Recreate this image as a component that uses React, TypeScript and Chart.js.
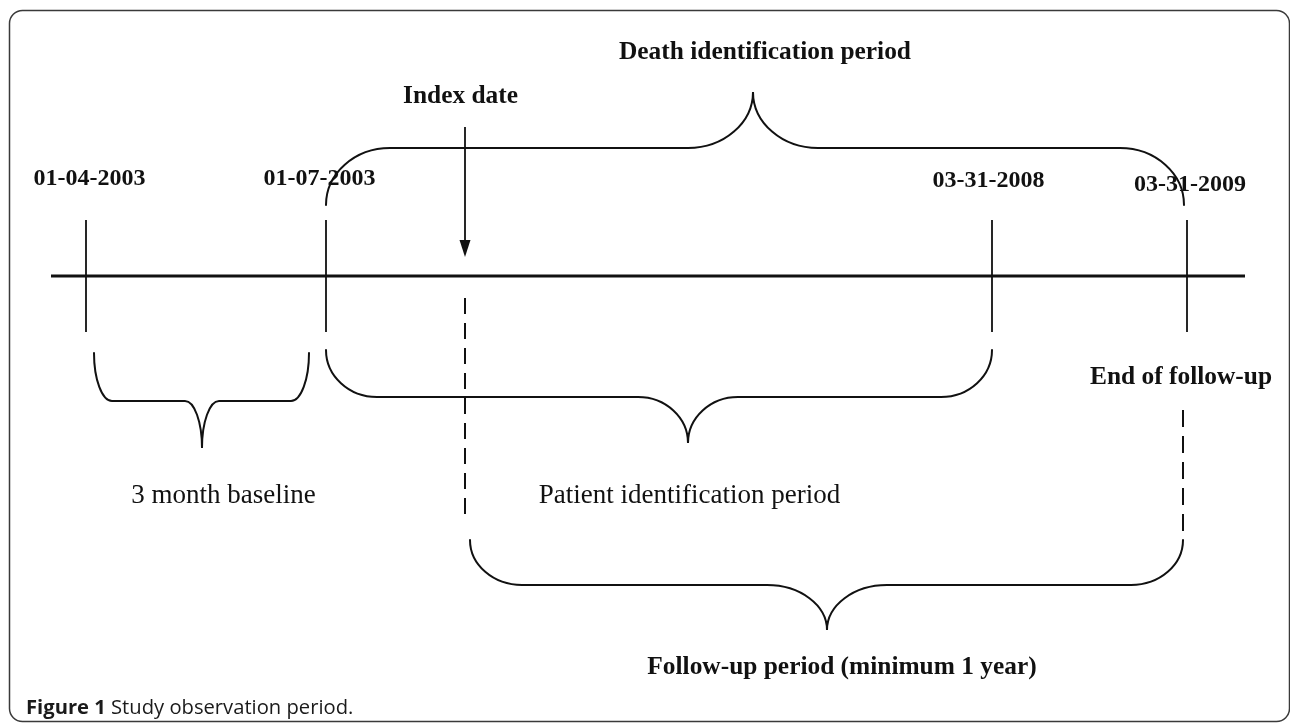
import React, { useEffect, useRef } from 'react';
import { Chart, registerables } from 'chart.js';

Chart.register(...registerables);

// ---- Data (schematic timeline units, 1 unit = 1 px of the figure) ----
const milestoneLabels = ['01-04-2003', '01-07-2003', '03-31-2008', '03-31-2009'];
const milestonePos = [86, 326, 992, 1187];

const indexDateLabel = 'Index date';
const indexDatePos = 465;

const endFollowUpLabel = 'End of follow-up';
const endFollowUpPos = 1183;

const periodLabels = [
  '3 month baseline',
  'Patient identification period',
  'Follow-up period (minimum 1 year)',
  'Death identification period',
];
const periodStart = [94, 326, 470, 326];
const periodEnd = [309, 992, 1183, 1184];
const periodPeak = [202, 688, 827, 753];

const captionBold = 'Figure 1';
const captionText = ' Study observation period.';

// ---- Layout / style (not data) ----
const INK = '#111111';
const SERIF = "'Liberation Serif', 'Times New Roman', serif";
const SANS = "'Open Sans', 'Noto Sans', sans-serif";
const L = {
  axisY: 276,
  axisX0: 51,
  axisX1: 1245,
  tickTop: 220,
  tickBottom: 332,
  dateCenterX: [89.5, 319.5, 988.5, 1190],
  dateBaseline: [185, 185, 187, 191],
  arrowTop: 127,
  arrowTip: 257,
  arrowHeadH: 17,
  arrowHeadW: 11,
  indexLabelX: 460.5,
  indexLabelBase: 103,
  idxDashTop: 298,
  idxDashBottom: 522,
  endDashTop: 410,
  endDashBottom: 534,
  endLabelX: 1181,
  endLabelBase: 384,
  braceEndY: [353, 350, 540, 205],
  braceBaseY: [401, 397, 585, 148],
  braceTipY: [448, 443, 630, 92],
  braceRx: [18, 51, 52, 64],
  braceCuspW: [17, 50, 60, 65],
  labelX: [223.5, 689.5, 842, 765],
  labelBase: [503, 503, 674, 59],
  labelFont: [`27px ${SERIF}`, `27px ${SERIF}`, `bold 25.4px ${SERIF}`, `bold 25.4px ${SERIF}`],
  captionX: 26,
  captionBase: 714,
  captionSize: 20.2,
};

function drawBrace(
  ctx: CanvasRenderingContext2D,
  x0: number, x1: number, xt: number,
  yEnd: number, yBase: number, yTip: number,
  rx: number, w: number
) {
  const ry = Math.abs(yBase - yEnd);
  const h = Math.abs(yTip - yBase);
  const P = Math.PI;
  ctx.beginPath();
  if (yBase > yEnd) {
    // opening upward, tip pointing down
    ctx.ellipse(x0 + rx, yEnd, rx, ry, 0, P, P / 2, true);
    ctx.lineTo(xt - w, yBase);
    ctx.ellipse(xt - w, yTip, w, h, 0, -P / 2, 0, false);
    ctx.ellipse(xt + w, yTip, w, h, 0, P, 1.5 * P, false);
    ctx.lineTo(x1 - rx, yBase);
    ctx.ellipse(x1 - rx, yEnd, rx, ry, 0, P / 2, 0, true);
  } else {
    // opening downward, tip pointing up
    ctx.ellipse(x0 + rx, yEnd, rx, ry, 0, P, 1.5 * P, false);
    ctx.lineTo(xt - w, yBase);
    ctx.ellipse(xt - w, yTip, w, h, 0, P / 2, 0, true);
    ctx.ellipse(xt + w, yTip, w, h, 0, P, P / 2, true);
    ctx.lineTo(x1 - rx, yBase);
    ctx.ellipse(x1 - rx, yEnd, rx, ry, 0, 1.5 * P, 2 * P, false);
  }
  ctx.stroke();
}

const diagramPlugin = {
  id: 'timelineDiagram',
  beforeDraw(chart: any) {
    const { ctx, width, height } = chart;
    ctx.save();
    ctx.fillStyle = '#ffffff';
    ctx.fillRect(0, 0, width, height);
    ctx.strokeStyle = '#3a3a3a';
    ctx.lineWidth = 1.5;
    ctx.beginPath();
    (ctx as any).roundRect(9.5, 10.5, 1280, 711, 13);
    ctx.stroke();
    ctx.restore();
  },
  afterDatasetsDraw(chart: any) {
    const { ctx } = chart;
    const xs = chart.scales.x;
    const ys = chart.scales.y;
    const X = (v: number) => xs.getPixelForValue(v);
    const Y = (v: number) => ys.getPixelForValue(v);
    ctx.save();
    ctx.strokeStyle = INK;
    ctx.fillStyle = INK;
    ctx.lineWidth = 2;
    ctx.lineCap = 'round';

    // braces
    periodLabels.forEach((_, i) => {
      const x0 = X(periodStart[i]);
      const x1 = X(periodEnd[i]);
      const xt = X(periodPeak[i]);
      const rx = Math.abs(X(periodStart[i] + L.braceRx[i]) - x0);
      const w = Math.abs(X(periodPeak[i] + L.braceCuspW[i]) - xt);
      drawBrace(ctx, x0, x1, xt, Y(L.braceEndY[i]), Y(L.braceBaseY[i]), Y(L.braceTipY[i]), rx, w);
    });

    // arrow head of index date
    const ax = X(indexDatePos);
    const tipY = Y(L.arrowTip);
    const headY = Y(L.arrowTip - L.arrowHeadH);
    const hw = Math.abs(X(indexDatePos + L.arrowHeadW / 2) - ax);
    ctx.beginPath();
    ctx.moveTo(ax, tipY);
    ctx.lineTo(ax - hw, headY);
    ctx.lineTo(ax + hw, headY);
    ctx.closePath();
    ctx.fill();

    // text
    ctx.textAlign = 'center';
    ctx.textBaseline = 'alphabetic';
    ctx.font = `bold 24px ${SERIF}`;
    milestoneLabels.forEach((t, i) => {
      ctx.fillText(t, X(L.dateCenterX[i]), Y(L.dateBaseline[i]));
    });
    ctx.font = `bold 25.4px ${SERIF}`;
    ctx.fillText(indexDateLabel, X(L.indexLabelX), Y(L.indexLabelBase));
    ctx.fillText(endFollowUpLabel, X(L.endLabelX), Y(L.endLabelBase));
    periodLabels.forEach((t, i) => {
      ctx.font = L.labelFont[i];
      ctx.fillText(t, X(L.labelX[i]), Y(L.labelBase[i]));
    });

    // caption
    ctx.textAlign = 'left';
    ctx.fillStyle = '#1a1a1a';
    ctx.font = `bold ${L.captionSize}px ${SANS}`;
    const cx = X(L.captionX);
    const cy = Y(L.captionBase);
    ctx.fillText(captionBold, cx, cy);
    const bw = ctx.measureText(captionBold).width;
    ctx.font = `${L.captionSize}px ${SANS}`;
    ctx.fillText(captionText, cx + bw, cy);
    ctx.restore();
  },
};

export default function App() {
  const ref = useRef<HTMLCanvasElement>(null);

  useEffect(() => {
    const canvas = ref.current;
    if (!canvas) return;
    const pt = (x: number, y: number) => ({ x, y });
    const seg = (pts: { x: number; y: number }[], width: number, dash: number[] = []) => ({
      data: pts,
      showLine: true,
      borderColor: INK,
      backgroundColor: INK,
      borderWidth: width,
      borderDash: dash,
      borderCapStyle: 'butt',
      pointRadius: 0,
      pointHoverRadius: 0,
      fill: false,
      tension: 0,
    });
    const datasets: any[] = [
      seg([pt(L.axisX0, L.axisY), pt(L.axisX1, L.axisY)], 3),
      ...milestonePos.map((x) => seg([pt(x, L.tickTop), pt(x, L.tickBottom)], 1.8)),
      seg([pt(indexDatePos, L.arrowTop), pt(indexDatePos, L.arrowTip - L.arrowHeadH + 1)], 1.8),
      seg([pt(indexDatePos, L.idxDashTop), pt(indexDatePos, L.idxDashBottom)], 2, [16, 9]),
      seg([pt(endFollowUpPos, L.endDashTop), pt(endFollowUpPos, L.endDashBottom)], 2, [17, 9]),
    ];

    const chart = new Chart(canvas, {
      type: 'scatter',
      data: { datasets },
      options: {
        responsive: false,
        animation: false,
        events: [],
        layout: { padding: 0 },
        plugins: {
          legend: { display: false },
          tooltip: { enabled: false },
          title: { display: false },
        },
        scales: {
          x: { type: 'linear', min: 0, max: 1290, display: false },
          y: { type: 'linear', min: 0, max: 724, reverse: true, display: false },
        },
      },
      plugins: [diagramPlugin],
    } as any);

    return () => chart.destroy();
  }, []);

  return (
    <div style={{ position: 'absolute', left: 0, top: 0, width: 1290, height: 724, background: '#fff' }}>
      <canvas ref={ref} width={1290} height={724} style={{ display: 'block' }} />
    </div>
  );
}
